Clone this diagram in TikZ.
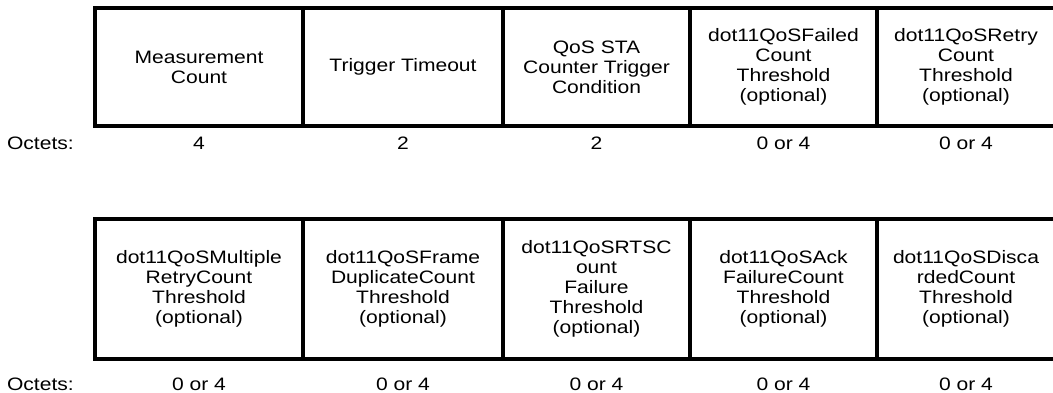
\documentclass[tikz,border=0pt]{standalone}
\usepackage{fontspec}
\setmainfont{Liberation Sans}[FakeStretch=1.17]
\usetikzlibrary{positioning}

\begin{document}
\begin{tikzpicture}[x=1pt, y=-1pt, font=\fontsize{18}{20}\selectfont,
        field/.style={draw, line width=3.2pt, outer sep=0pt, inner sep=2pt,
                      align=center},
        octets/.style={inner sep=0pt, text height=13pt, text depth=0pt}]
      \useasboundingbox (0,0) rectangle (1053,393);
      % first row
      \node[field, minimum width=208pt, minimum height=118pt, anchor=north west]
        (mc) at (95,8) {Measurement\\Count};
      \node[field, minimum width=200pt, minimum height=118pt, right=0pt of mc]
        (tt) {Trigger Timeout};
      \node[field, minimum width=187pt, minimum height=118pt, right=0pt of tt]
        (sc) {QoS STA\\Counter Trigger\\Condition};
      \node[field, minimum width=187pt, minimum height=118pt, right=0pt of sc]
        (fc) {dot11QoSFailed\\Count\\Threshold\\(optional)};
      \node[field, minimum width=178pt, minimum height=118pt, right=0pt of fc]
        (rc) {dot11QoSRetry\\Count\\Threshold\\(optional)};
      \foreach \f/\n in {mc/4, tt/2, sc/2, fc/0 or 4, rc/0 or 4}
        \node[octets, below=10pt of \f] (oct-\f) {\n};
      \node[octets, left=119pt of oct-mc] (lbl1) {Octets:};
      % second row
      \node[field, minimum width=208pt, minimum height=140pt, anchor=north west]
        (mr) at (95,219) {dot11QoSMultiple\\RetryCount\\Threshold\\(optional)};
      \node[field, minimum width=200pt, minimum height=140pt, right=0pt of mr]
        (fd) {dot11QoSFrame\\DuplicateCount\\Threshold\\(optional)};
      \node[field, minimum width=187pt, minimum height=140pt, right=0pt of fd]
        (rts) {dot11QoSRTSC\\ount\\Failure\\Threshold\\(optional)};
      \node[field, minimum width=187pt, minimum height=140pt, right=0pt of rts]
        (af) {dot11QoSAck\\FailureCount\\Threshold\\(optional)};
      \node[field, minimum width=178pt, minimum height=140pt, right=0pt of af]
        (dc) {dot11QoSDisca\\rdedCount\\Threshold\\(optional)};
      \foreach \f in {mr, fd, rts, af, dc}
        \node[octets, below=18pt of \f] (oct-\f) {0 or 4};
      \node[octets, anchor=east] (lbl2) at (lbl1.east |- oct-mr.east) {Octets:};
\end{tikzpicture}
\end{document}
